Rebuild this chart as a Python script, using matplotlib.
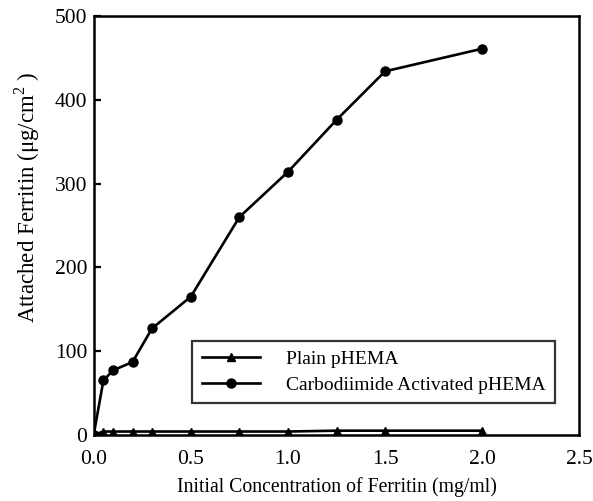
import matplotlib
matplotlib.use("Agg")
import matplotlib.pyplot as plt

# initial ferritin concentration (mg/ml)
conc = [0.0, 0.05, 0.1, 0.2, 0.3, 0.5, 0.75, 1.0, 1.25, 1.5, 2.0]
# attached ferritin (ug/cm2)
plain = [0, 4, 4, 4, 4, 4, 4, 4, 5, 5, 5]
activated = [0, 65, 77, 87, 127, 165, 260, 314, 376, 434, 461]

plt.rcParams['font.family'] = ['Liberation Serif', 'DejaVu Serif']
plt.rcParams['mathtext.fontset'] = 'custom'
plt.rcParams['mathtext.rm'] = 'Liberation Serif'

fig, ax = plt.subplots(figsize=(5.93, 5.01), dpi=100)
plt.subplots_adjust(left=0.158, right=0.977, top=0.968, bottom=0.132)

ax.plot(conc, plain, color='black', lw=1.9, marker='^', ms=5.5, label='Plain pHEMA')
ax.plot(conc, activated, color='black', lw=1.9, marker='o', ms=6.5,
        label='Carbodiimide Activated pHEMA')

ax.set_xlim(0, 2.5)
ax.set_ylim(0, 500)
ax.set_xticks([0, 0.5, 1.0, 1.5, 2.0, 2.5])
ax.set_xticklabels(['0.0', '0.5', '1.0', '1.5', '2.0', '2.5'])
ax.set_yticks([0, 100, 200, 300, 400, 500])
ax.tick_params(axis='y', direction='in', length=5, width=1.6, labelsize=15.5, pad=4.5)
ax.tick_params(axis='x', direction='in', length=0, labelsize=15.5, pad=11)
for s in ax.spines.values():
    s.set_linewidth(1.8)

ax.set_xlabel('Initial Concentration of Ferritin (mg/ml)', fontsize=14.2, labelpad=6)
ax.set_ylabel(r'Attached Ferritin ($\mathregular{\mu}$g/cm$^{\mathregular{2}}$ )',
              fontsize=16.5)
ax.yaxis.set_label_coords(-0.107, 0.568)

leg = ax.legend(loc='lower left', bbox_to_anchor=(0.183, 0.052), fontsize=14,
                frameon=True, fancybox=False, edgecolor='black', handlelength=3.0,
                handletextpad=1.3, borderpad=0.5, labelspacing=0.4)
leg.get_frame().set_linewidth(1.6)

plt.savefig('out.png', dpi=100)
